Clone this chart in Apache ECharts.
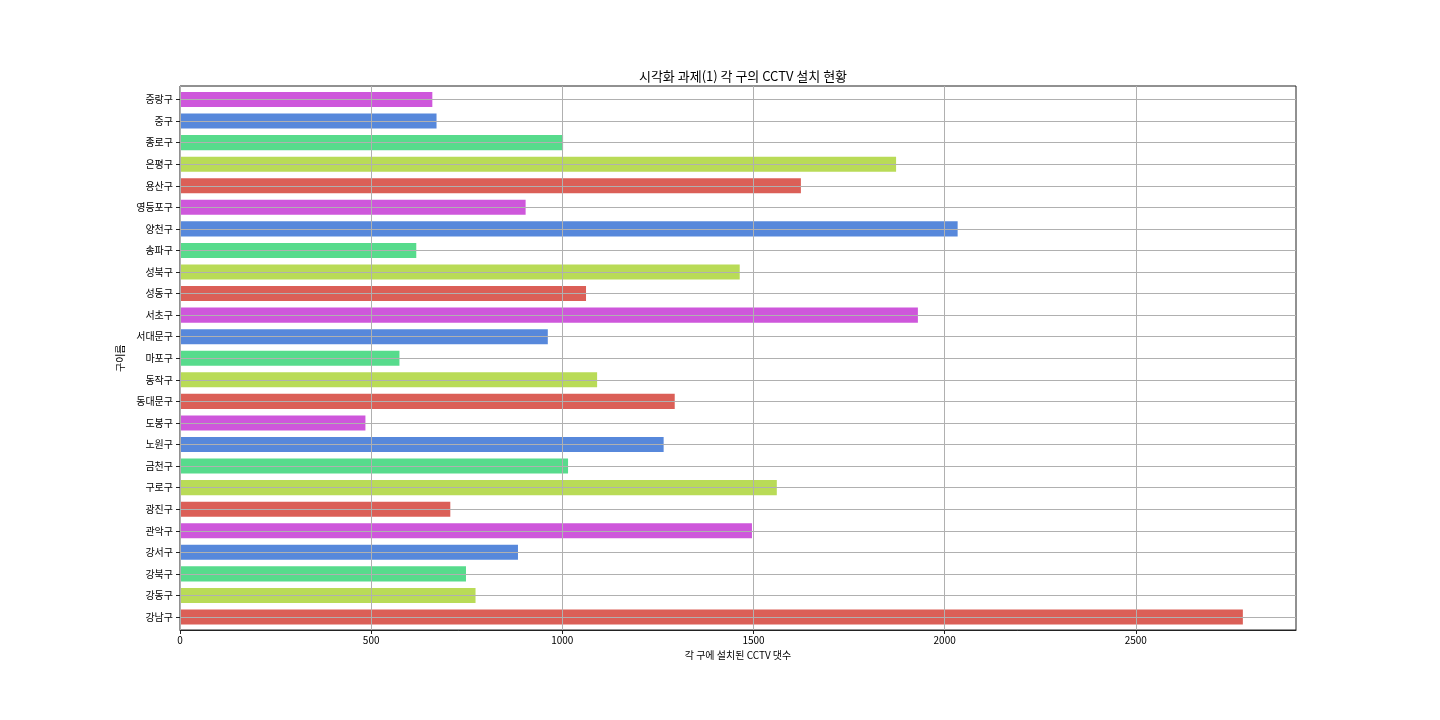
<!DOCTYPE html>
<html><head><meta charset="utf-8">
<script src="https://cdn.jsdelivr.net/npm/echarts@6/dist/echarts.min.js"></script>
<style>html,body{margin:0;padding:0;background:#fff}#c{width:1440px;height:720px}</style>
</head><body><div id="c"></div>
<script>
const districts = ['강남구','강동구','강북구','강서구','관악구','광진구','구로구','금천구','노원구','도봉구','동대문구','동작구','마포구','서대문구','서초구','성동구','성북구','송파구','양천구','영등포구','용산구','은평구','종로구','중구','중랑구'];
const cctvCounts = [2780,773,748,884,1496,707,1561,1015,1265,485,1294,1091,574,962,1930,1062,1464,618,2034,904,1624,1873,1002,671,660];
const xTicks = [0,500,1000,1500,2000,2500];
const palette = ['#db5f57','#b9db57','#57db8c','#5788db','#ce57db'];
const titleText = '시각화 과제(1) 각 구의 CCTV 설치 현황';
const xName = '각 구에 설치된 CCTV 댓수';
const yName = '구이름';

const FONT = "'Noto Sans CJK KR', 'Noto Sans', sans-serif";
const xMax = Math.max(...cctvCounts) * 1.05;
const chart = echarts.init(document.getElementById('c'), null, {renderer:'canvas'});
chart.setOption({
  animation:false,
  color: palette,
  textStyle:{fontFamily:FONT},
  title:{text:titleText,left:738,top:65,textAlign:'center',
    textStyle:{fontFamily:FONT,fontSize:13,fontWeight:'normal',color:'#000'}},
  grid:[
    {left:180,top:99.5,width:1116,bottom:103,containLabel:false},
    {left:180,top:86,width:1116,bottom:90,show:true,borderColor:'#222',borderWidth:1,backgroundColor:'transparent',z:5}
  ],
  xAxis:[
    {gridIndex:0,type:'value',min:0,max:xMax,show:false},
    {gridIndex:1,type:'value',min:0,max:xMax,interval:500,z:5,
     name:xName,nameLocation:'middle',nameGap:20,
     nameTextStyle:{fontFamily:FONT,fontSize:10,color:'#000'},
     axisLine:{show:true,lineStyle:{color:'#222',width:1}},
     axisTick:{show:true,length:4,customValues:xTicks,lineStyle:{color:'#222'}},
     axisLabel:{fontFamily:FONT,fontSize:10,color:'#000',margin:5,customValues:xTicks,
       formatter:v=>String(v)},
     splitLine:{show:true,lineStyle:{color:'#b0b0b0',width:1}}}
  ],
  yAxis:[
    {gridIndex:0,type:'category',data:districts,boundaryGap:false,z:5,
     name:yName,nameLocation:'middle',nameGap:50,nameRotate:90,
     nameTextStyle:{fontFamily:FONT,fontSize:10,color:'#000'},
     axisLine:{show:false},
     axisTick:{show:true,length:4,inside:false,lineStyle:{color:'#222'}},
     axisLabel:{fontFamily:FONT,fontSize:10,color:'#000',margin:7,interval:0},
     splitLine:{show:true,interval:0,lineStyle:{color:'#b0b0b0',width:1}}},
    {gridIndex:1,type:'value',min:0,max:1,show:false}
  ],
  series:[{
    type:'bar',xAxisIndex:0,yAxisIndex:0,data:cctvCounts,
    barWidth:'70%',colorBy:'data',clip:false,z:2,
    itemStyle:{borderWidth:0}
  }]
});
</script></body></html>
